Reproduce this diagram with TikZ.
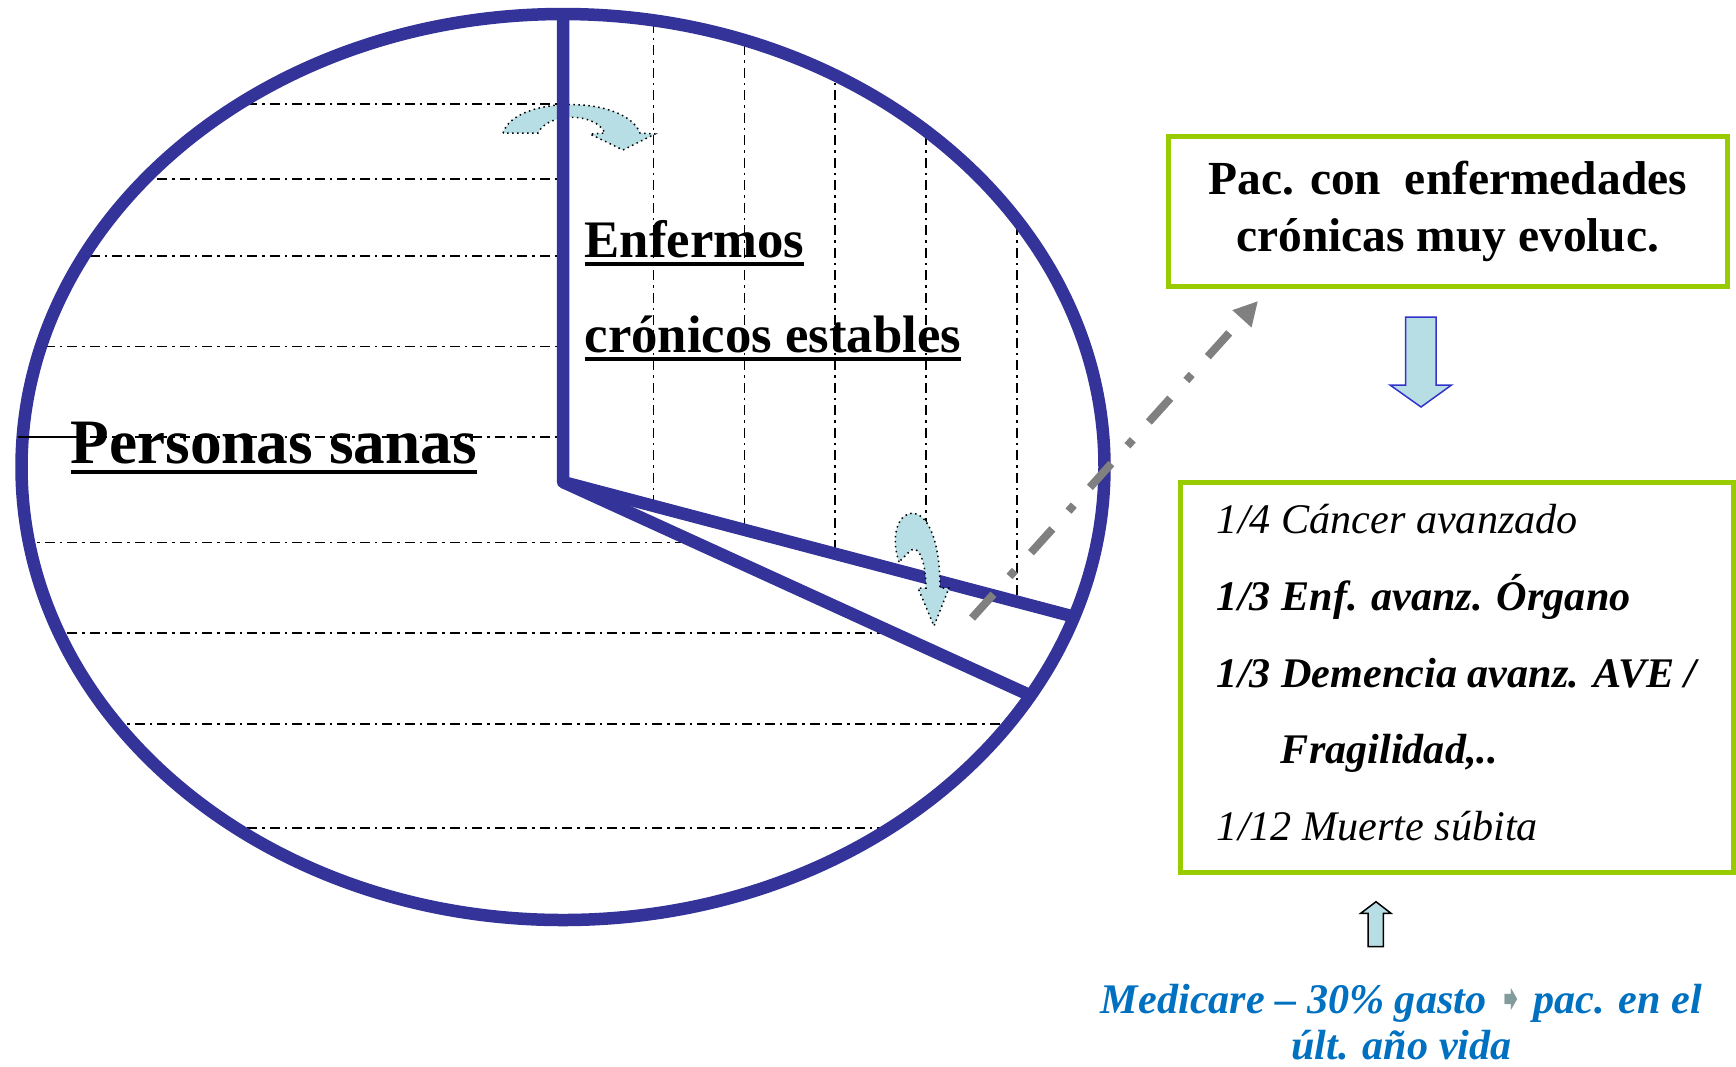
\documentclass[tikz,border=0pt]{standalone}
\usepackage{fontspec}
\setmainfont{Liberation Serif}
\newfontfamily\dingfont{DejaVu Sans}
\usetikzlibrary{positioning,calc,arrows.meta}

\definecolor{pieblue}{RGB}{51,51,153}
\definecolor{limegreen}{RGB}{153,204,0}
\definecolor{paleblue}{RGB}{183,222,228}
\definecolor{outblue}{RGB}{51,51,204}
\definecolor{medblue}{RGB}{0,112,192}
\definecolor{dotgray}{RGB}{128,128,128}
\definecolor{tipgray}{RGB}{130,155,155}

% underlined heading text
\newcommand\undertxt[2][1.1mm]{\setbox0=\hbox{#2}\rlap{\rule[-#1]{\wd0}{0.4mm}}\box0}

\tikzset{
  pieline/.style={draw=pieblue, line width=1.25mm},
  gridline/.style={line width=0.15mm, dash pattern=on 1mm off 0.5mm on 0.25mm off 0.5mm},
  bendarrow/.style={fill=paleblue, draw=black, densely dotted, line width=0.15mm},
  blockarrow/.style={fill=paleblue, draw=#1, line width=0.15mm},
  greenbox/.style={draw=limegreen, line width=0.5mm, inner sep=0},
  headtxt/.style={inner sep=0, font=\bfseries\fontsize{15}{18}\selectfont}
}

\begin{document}
\begin{tikzpicture}[x=0.1mm, y=-0.1mm]
  \useasboundingbox (0,0) rectangle (1736,1066);

  \coordinate (ctr) at (563,482);
  \coordinate (top) at (563,14);
  \coordinate (e1) at (1074,616.7);
  \coordinate (e2) at (1030.5,695.5);

  % hatching, healthy part
  \begin{scope}
    \clip (563,467) ellipse [x radius=54.15mm, y radius=45.3mm];
    \clip (563,-10) -- (ctr) -- ($(ctr)!1.8!(e2)$) -- (1500,1100) -- (-10,1100) -- (-10,-10) -- cycle;
    \foreach \y in {104,179,256,346.5,437,542.5,633,724,828}
      \draw[gridline] (0,\y) -- (1500,\y);
  \end{scope}

  % hatching, chronic part
  \begin{scope}
    \clip (563,467) ellipse [x radius=54.15mm, y radius=45.3mm];
    \clip (563,-10) -- (ctr) -- ($(ctr)!1.8!(e1)$) -- (1500,-10) -- cycle;
    \foreach \x in {653.5,744.5,835,926,1017}
      \draw[gridline] (\x,0) -- (\x,1066);
  \end{scope}

  \draw[bendarrow] (503,133) .. controls (515,95) and (625,95) .. (640,133)
    -- (655,134) -- (623,150) -- (590,134) -- (605,133)
    .. controls (595,112) and (548,112) .. (538,133) -- cycle;

  % the pie
  \draw[pieline] (563,467) ellipse [x radius=54.15mm, y radius=45.3mm];
  \draw[pieline, line join=round] (top) -- (ctr) -- (e1);
  \draw[pieline] (ctr) -- (e2);

  \draw[bendarrow] (899,562) .. controls (880,505) and (940,480) .. (940,588)
    -- (949,588) -- (934,626) -- (918,588) -- (926,588)
    .. controls (926,565) and (920,545) .. (911,550) -- cycle;

  % labels in the pie
  \coordinate (lead) at (18,437);
  \node[headtxt, font=\bfseries\fontsize{18}{22}\selectfont, anchor=base west] (sanas) at (70,463) {\undertxt{Personas sanas}};
  \draw[line width=0.15mm] (lead) -- (lead -| sanas.west);

  \node[headtxt, anchor=base west] (enf) at (584,257) {\undertxt[0.9mm]{Enfermos}};
  \node[headtxt, below=9.5mm of enf.base west, anchor=base west] (cron) {\undertxt[0.9mm]{crónicos estables}};

  % gray arrow out of the pie
  \coordinate (gfrom) at (972,618);
  \coordinate (gto) at (1258,301);
  \draw[dotgray, line width=0.8mm, dash pattern=on 3.2mm off 2.4mm on 0.8mm off 2.4mm,
    -{Triangle[length=2.4mm,width=2.4mm]}] (gfrom) -- (gto);

  % right side
  \node[greenbox, minimum width=55.95mm, minimum height=14.93mm, align=center,
    font=\bfseries\fontsize{13.5}{16.1}\selectfont] (evol) at (1447.75,211.35)
    {Pac. con\ \ enfermedades\\crónicas muy evoluc.};

  \draw[blockarrow=outblue] (1405.5,317) -- (1436,317) -- (1436,385) -- (1451.5,385)
    -- (1421,407) -- (1390,385) -- (1405.5,385) -- cycle;

  \node[greenbox, minimum width=55.35mm, minimum height=38.93mm, align=left,
    font=\itshape\fontsize{12}{21.8}\selectfont] (causes) at (1456.75,677.35)
    {1/4 Cáncer avanzado\\
     \textbf{1/3 Enf. avanz. Órgano}\\
     \textbf{1/3 Demencia avanz. AVE /}\\
     \hspace*{6.4mm}\textbf{Fragilidad,..}\\
     1/12 Muerte súbita\rule[-1mm]{0pt}{1mm}};

  \draw[blockarrow=black] (1368,946.7) -- (1383.3,946.7) -- (1383.3,913.3) -- (1391,913.3)
    -- (1376,901.7) -- (1360.7,913.3) -- (1368,913.3) -- cycle;

  \node[align=center, text=medblue, inner sep=0,
    font=\bfseries\itshape\fontsize{12}{13.1}\selectfont] (medi) at (1401.5,1022)
    {Medicare – 30\% gasto {\dingfont\fontsize{10}{10}\selectfont\color{tipgray}\raisebox{0.3mm}{➧}}\,pac. en el\\últ. año vida};
\end{tikzpicture}
\end{document}
